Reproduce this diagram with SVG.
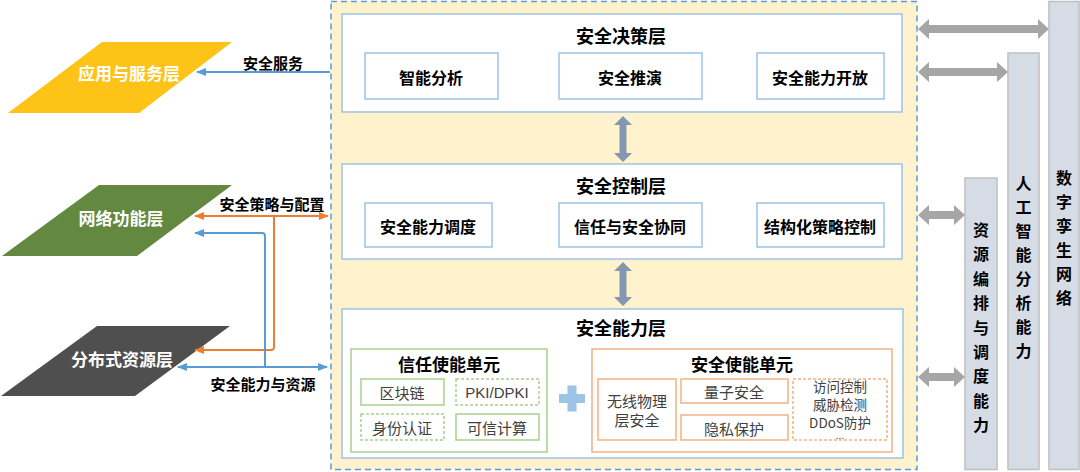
<svg xmlns="http://www.w3.org/2000/svg" width="1080" height="472" viewBox="0 0 1080 472">
<defs>
<style>
text { font-family: "Noto Sans CJK SC", "Liberation Sans", sans-serif; dominant-baseline: central; text-anchor: middle; }
.t { font-size: 18px; font-weight: bold; fill: #000; }
.s { font-size: 16px; font-weight: bold; fill: #000; }
.u { font-size: 15px; fill: #404040; }
.m { font-size: 13.5px; fill: #404040; }
.lbl { font-size: 15px; font-weight: bold; fill: #000; }
.para { font-size: 17px; font-weight: bold; fill: #fff; }
.bt { font-size: 16px; font-weight: bold; fill: #000; }
.layer { fill: #fff; stroke: #9DC3E6; stroke-width: 1.5; }
.box { fill: #fff; stroke: #9DC3E6; stroke-width: 1.5; }
.g { fill: #fff; stroke: #A9D18E; stroke-width: 1.5; }
.gd { fill: #fff; stroke: #A9D18E; stroke-width: 1.5; stroke-dasharray: 3 2; }
.o { fill: #fff; stroke: #F4B183; stroke-width: 1.5; }
.od { fill: #fff; stroke: #F4B183; stroke-width: 1.5; stroke-dasharray: 3 2; }
.bar { fill: #D6DCE5; stroke: #BFBFBF; stroke-width: 1.5; }
.blue { fill: none; stroke: #5B9BD5; stroke-width: 2; }
.orange { fill: none; stroke: #ED7D31; stroke-width: 2; }
.garrow { fill: #A6A6A6; }
.varrow { fill: #8497B0; }
</style>
<marker id="mb" markerUnits="userSpaceOnUse" markerWidth="10" markerHeight="8" refX="9" refY="4" orient="auto-start-reverse">
<path d="M0,0 L10,4 L0,8 z" fill="#5B9BD5"/>
</marker>
<marker id="mo" markerUnits="userSpaceOnUse" markerWidth="10" markerHeight="8" refX="9" refY="4" orient="auto-start-reverse">
<path d="M0,0 L10,4 L0,8 z" fill="#ED7D31"/>
</marker>
</defs>

<rect x="0" y="0" width="1080" height="472" fill="#fff"/>

<!-- main panel -->
<g id="main-panel">
<rect x="331" y="1.5" width="586" height="468" fill="#FFF2CC" stroke="#5B9BD5" stroke-width="1.5" stroke-dasharray="6 4"/>
</g>

<!-- decision layer -->
<g id="decision-layer">
<rect class="layer" x="342" y="14" width="560" height="98"/>
<text class="t" x="621" y="35">安全决策层</text>
</g>
<g id="node-zhineng">
<rect class="box" x="365" y="53" width="133" height="46"/>
<text class="s" x="431" y="77">智能分析</text>
</g>
<g id="node-tuiyan">
<rect class="box" x="559" y="53" width="143" height="46"/>
<text class="s" x="630" y="77">安全推演</text>
</g>
<g id="node-kaifang">
<rect class="box" x="757" y="53" width="127" height="46"/>
<text class="s" x="820" y="77">安全能力开放</text>
</g>

<!-- control layer -->
<g id="control-layer">
<rect class="layer" x="342" y="164" width="560" height="95"/>
<text class="t" x="621" y="185">安全控制层</text>
</g>
<g id="node-diaodu">
<rect class="box" x="365" y="203" width="127" height="44"/>
<text class="s" x="428" y="226">安全能力调度</text>
</g>
<g id="node-xietong">
<rect class="box" x="559" y="203" width="143" height="44"/>
<text class="s" x="630" y="226">信任与安全协同</text>
</g>
<g id="node-celue">
<rect class="box" x="757" y="203" width="127" height="44"/>
<text class="s" x="820" y="226">结构化策略控制</text>
</g>

<!-- capability layer -->
<g id="capability-layer">
<rect class="layer" x="342" y="309" width="561" height="149"/>
<text class="t" x="621" y="327">安全能力层</text>
</g>
<g id="trust-unit">
<rect class="g" x="351" y="349" width="196" height="103"/>
<text class="t" x="449" y="363" style="font-size:17px">信任使能单元</text>
</g>
<g id="node-qukuailian">
<rect class="g" x="361" y="379" width="83" height="26"/>
<text class="u" x="402" y="392">区块链</text>
</g>
<g id="node-pki">
<rect class="gd" x="456" y="379" width="83" height="26"/>
<text class="u" x="497" y="392" style="font-family:'Liberation Sans','Noto Sans CJK SC',sans-serif">PKI/DPKI</text>
</g>
<g id="node-shenfen">
<rect class="gd" x="361" y="414" width="83" height="26"/>
<text class="u" x="402" y="427">身份认证</text>
</g>
<g id="node-kexin">
<rect class="g" x="456" y="414" width="83" height="26"/>
<text class="u" x="497" y="427">可信计算</text>
</g>
<g id="plus">
<rect x="559" y="394" width="26" height="9" fill="#9DC3E6"/>
<rect x="567.5" y="385.5" width="9" height="26" fill="#9DC3E6"/>
</g>
<g id="security-unit">
<rect class="o" x="592" y="349" width="300" height="103"/>
<text class="t" x="742" y="363" style="font-size:17px">安全使能单元</text>
</g>
<g id="node-wuxian">
<rect class="o" x="598" y="379" width="78" height="61"/>
<text class="u" x="637" y="400">无线物理</text>
<text class="u" x="637" y="419">层安全</text>
</g>
<g id="node-liangzi">
<rect class="o" x="681" y="379" width="107" height="24"/>
<text class="u" x="734" y="391">量子安全</text>
</g>
<g id="node-yinsi">
<rect class="o" x="681" y="415" width="107" height="25"/>
<text class="u" x="734" y="428">隐私保护</text>
</g>
<g id="node-misc">
<rect class="od" x="793" y="379" width="94" height="61"/>
<text class="m" x="840" y="386">访问控制</text>
<text class="m" x="840" y="404">威胁检测</text>
<text class="m" x="840" y="422">DDoS防护</text>
<text x="840" y="439" style="font-family:'Liberation Sans',sans-serif;font-size:10px;fill:#404040;dominant-baseline:alphabetic">...</text>
</g>

<!-- left parallelograms -->
<g id="app-layer">
<polygon points="102,42 232,42 139,113 8,113" fill="#FDC316"/>
<text class="para" x="129" y="72">应用与服务层</text>
</g>
<g id="net-layer">
<polygon points="99,185 232,185 137,256 2,256" fill="#62893F"/>
<text class="para" x="121" y="217">网络功能层</text>
</g>
<g id="res-layer">
<polygon points="97,326 230,326 135,396 1,396" fill="#4F4F4F"/>
<text class="para" x="122" y="358">分布式资源层</text>
</g>

<!-- right bars -->
<g id="bar-twin">
<rect class="bar" x="1049" y="1.5" width="30" height="468"/>
<text class="bt" x="1064" y="177">数</text>
<text class="bt" x="1064" y="201">字</text>
<text class="bt" x="1064" y="225">孪</text>
<text class="bt" x="1064" y="249">生</text>
<text class="bt" x="1064" y="273">网</text>
<text class="bt" x="1064" y="297">络</text>
</g>
<g id="bar-ai">
<rect class="bar" x="1008" y="53" width="31" height="416.5"/>
<text class="bt" x="1023.5" y="182">人</text>
<text class="bt" x="1023.5" y="206">工</text>
<text class="bt" x="1023.5" y="230">智</text>
<text class="bt" x="1023.5" y="254">能</text>
<text class="bt" x="1023.5" y="278">分</text>
<text class="bt" x="1023.5" y="302">析</text>
<text class="bt" x="1023.5" y="326">能</text>
<text class="bt" x="1023.5" y="350">力</text>
</g>
<g id="bar-res">
<rect class="bar" x="965" y="178" width="32" height="291.5"/>
<text class="bt" x="981" y="229">资</text>
<text class="bt" x="981" y="253">源</text>
<text class="bt" x="981" y="278">编</text>
<text class="bt" x="981" y="302">排</text>
<text class="bt" x="981" y="327">与</text>
<text class="bt" x="981" y="351">调</text>
<text class="bt" x="981" y="375">度</text>
<text class="bt" x="981" y="400">能</text>
<text class="bt" x="981" y="424">力</text>
</g>

<!-- connectors -->
<g id="connectors">
<polygon class="varrow" points="623,116 632,125 626.5,125 626.5,153 632,153 623,162 614,153 619.5,153 619.5,125 614,125"/>
<polygon class="varrow" points="623,262 632,271 626.5,271 626.5,297 632,297 623,306 614,297 619.5,297 619.5,271 614,271"/>

<polygon class="garrow" points="918,29 929,19 929,25 1038,25 1038,19 1049,29 1038,39 1038,33 929,33 929,39"/>
<polygon class="garrow" points="918,72 929,62 929,68 997,68 997,62 1008,72 997,82 997,76 929,76 929,82"/>
<polygon class="garrow" points="918,215 929,205 929,211 954,211 954,205 965,215 954,225 954,219 929,219 929,225"/>
<polygon class="garrow" points="918,377 929,367 929,373 954,373 954,367 965,377 954,387 954,381 929,381 929,387"/>

<path class="blue" d="M330,72 H197" marker-end="url(#mb)"/>
<path class="orange" d="M328,216 H195" marker-start="url(#mo)" marker-end="url(#mo)"/>
<path class="orange" d="M274,216 V347 Q274,350 271,350 H195" marker-end="url(#mo)"/>
<path class="blue" d="M178,367 H327" marker-start="url(#mb)" marker-end="url(#mb)"/>
<path class="blue" d="M265,367 V236 Q265,233 262,233 H195" marker-end="url(#mb)"/>

<text class="lbl" x="273" y="62">安全服务</text>
<text class="lbl" x="272" y="203">安全策略与配置</text>
<text class="lbl" x="263" y="383">安全能力与资源</text>
</g>
</svg>
